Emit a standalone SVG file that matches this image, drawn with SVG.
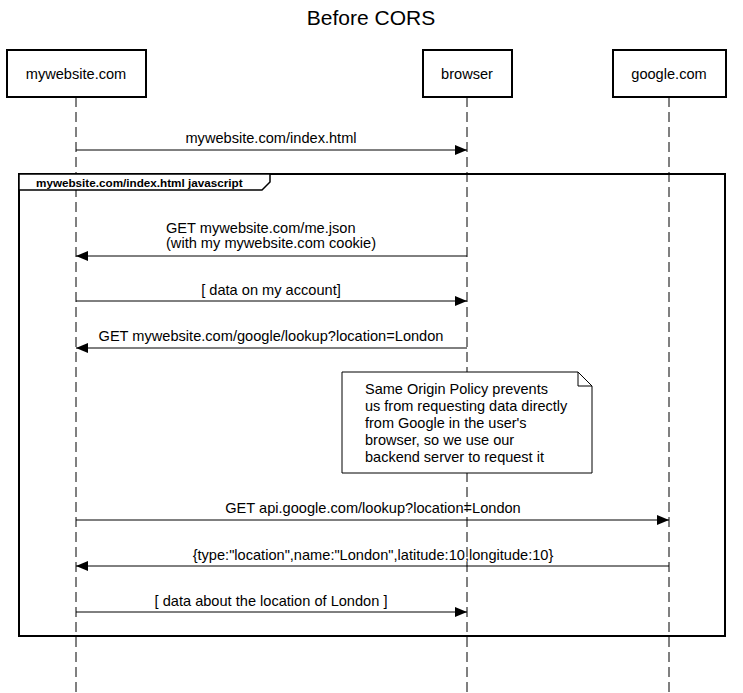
<svg xmlns="http://www.w3.org/2000/svg" width="743" height="693" viewBox="0 0 743 693">
<style>
text{font-family:"Liberation Sans",Arial,sans-serif;fill:#000}
.lbl{font-size:14.6px;text-anchor:middle}
.box{fill:#fff;stroke:#000;stroke-width:2}
.life{stroke:#000;stroke-width:1;stroke-dasharray:10 5;fill:none}
.msg{stroke:#000;stroke-width:1;fill:none}
.pt{font-size:14.6px;text-anchor:middle}
</style>
<defs>
<marker id="ah" markerWidth="12" markerHeight="10" refX="12" refY="5" orient="auto" markerUnits="userSpaceOnUse">
<path d="M0,0 L12,5 L0,10 Z" fill="#000"/>
</marker>
</defs>
<rect width="743" height="693" fill="#fff"/>
<text x="371" y="25" font-size="21" text-anchor="middle">Before CORS</text>
<g id="lifelines">
<line class="life" x1="76" y1="97" x2="76" y2="693"/>
<line class="life" x1="467" y1="97" x2="467" y2="693"/>
<line class="life" x1="669" y1="97" x2="669" y2="693"/>
</g>
<g id="p-mywebsite"><rect class="box" x="7" y="50" width="139" height="47"/><text class="pt" x="76" y="79">mywebsite.com</text></g>
<g id="p-browser"><rect class="box" x="423" y="50" width="89" height="47"/><text class="pt" x="467" y="79">browser</text></g>
<g id="p-google"><rect class="box" x="613" y="50" width="113" height="47"/><text class="pt" x="669" y="79">google.com</text></g>
<g id="frame">
<rect x="19" y="174" width="706" height="462" fill="none" stroke="#000" stroke-width="2"/>
<path d="M19,174 H270 V182 L262,190 H19 Z" fill="#fff" stroke="#000" stroke-width="1.5"/>
<text x="36" y="186.5" font-size="11.7" font-weight="bold">mywebsite.com/index.html javascript</text>
</g>
<g id="note">
<path d="M342,372 H578 L592,386 V473 H342 Z" fill="#fff" stroke="#000" stroke-width="1"/>
<path d="M578,372 V386 H592" fill="none" stroke="#000" stroke-width="1"/>
<text font-size="14.5"><tspan x="365" y="394">Same Origin Policy prevents</tspan><tspan x="365" y="411">us from requesting data directly</tspan><tspan x="365" y="428">from Google in the user's</tspan><tspan x="365" y="445">browser, so we use our</tspan><tspan x="365" y="462">backend server to request it</tspan></text>
</g>
<g id="connectors">
<line class="msg" x1="76" y1="150" x2="467" y2="150" marker-end="url(#ah)"/>
<text class="lbl" x="271" y="143">mywebsite.com/index.html</text>
<line class="msg" x1="467" y1="256" x2="76" y2="256" marker-end="url(#ah)"/>
<text font-size="14.6"><tspan x="166" y="233">GET mywebsite.com/me.json</tspan><tspan x="166" y="248">(with my mywebsite.com cookie)</tspan></text>
<line class="msg" x1="76" y1="301" x2="467" y2="301" marker-end="url(#ah)"/>
<text class="lbl" x="271" y="295">[ data on my account]</text>
<line class="msg" x1="467" y1="348" x2="76" y2="348" marker-end="url(#ah)"/>
<text class="lbl" x="271" y="341">GET mywebsite.com/google/lookup?location=London</text>
<line class="msg" x1="76" y1="520" x2="669" y2="520" marker-end="url(#ah)"/>
<text class="lbl" x="373" y="513">GET api.google.com/lookup?location=London</text>
<line class="msg" x1="669" y1="566" x2="76" y2="566" marker-end="url(#ah)"/>
<text class="lbl" x="373" y="560">{type:"location",name:"London",latitude:10,longitude:10}</text>
<line class="msg" x1="76" y1="612" x2="467" y2="612" marker-end="url(#ah)"/>
<text class="lbl" x="271" y="606">[ data about the location of London ]</text>
</g>
</svg>
